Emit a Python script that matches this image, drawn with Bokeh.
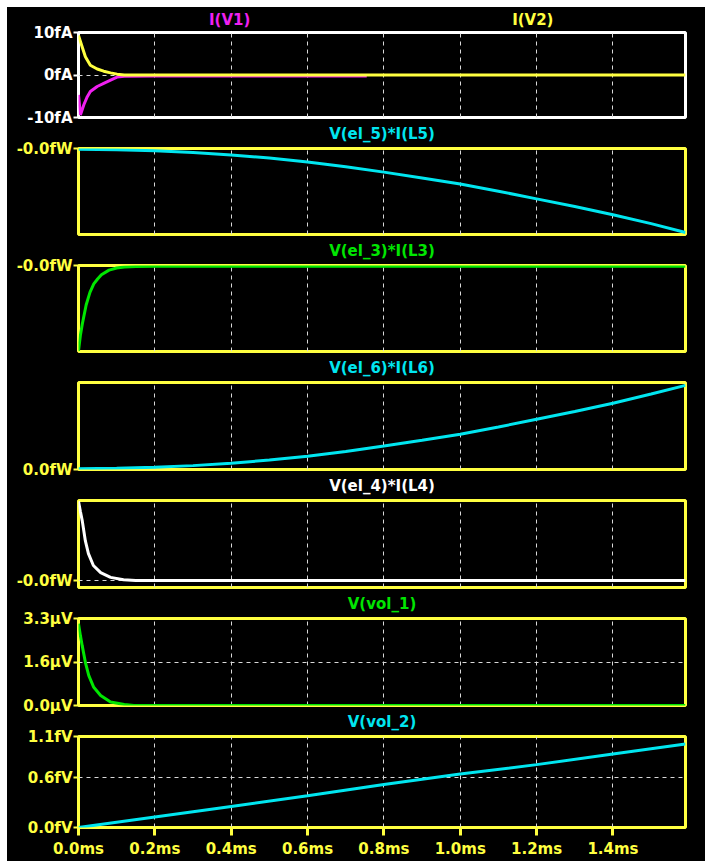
from bokeh.plotting import figure
from bokeh.layouts import column
from bokeh.models import FixedTicker, Range1d
from bokeh.core.properties import value
from bokeh.embed import file_html
from bokeh.resources import INLINE

# ---------------- data ----------------
x_ticks = [0.0, 0.2, 0.4, 0.6, 0.8, 1.0, 1.2, 1.4]
x_labels = ["0.0ms", "0.2ms", "0.4ms", "0.6ms", "0.8ms", "1.0ms", "1.2ms", "1.4ms"]

# panel 1: I(V1), I(V2)  [fA]
t_iv1 = [0.0, 0.005, 0.014, 0.023, 0.031, 0.049, 0.066, 0.084, 0.101, 0.12, 0.2, 0.4, 0.6, 0.755]
i_v1 = [-4.7, -9.4, -7.0, -5.1, -3.9, -2.7, -1.95, -1.2, -0.5, -0.3, -0.25, -0.25, -0.25, -0.25]
t_iv2 = [0.0, 0.0097, 0.018, 0.031, 0.049, 0.066, 0.084, 0.101, 0.12, 0.4, 0.8, 1.2, 1.59]
i_v2 = [9.3, 6.6, 4.3, 2.3, 1.4, 0.9, 0.5, 0.2, 0.0, 0.0, 0.0, 0.0, 0.0]
top_titles = ["I(V1)", "I(V2)"]
top_title_x = [0.396, 1.19]

# panel 2: V(el_5)*I(L5)  [fW]
t_p5 = [0.0, 0.1, 0.2, 0.3, 0.4, 0.5, 0.6, 0.7, 0.8, 0.9, 1.0, 1.1, 1.2, 1.3, 1.4, 1.5, 1.59]
p_l5 = [0.0, -0.00012, -0.00049, -0.00108, -0.00195, -0.00307, -0.00443, -0.00610, -0.00802,
        -0.01012, -0.01221, -0.01476, -0.01744, -0.02016, -0.02302, -0.02616, -0.0293]

# panel 3: V(el_3)*I(L3)  [fW]
t_p3 = [0.0, 0.005, 0.01, 0.02, 0.03, 0.04, 0.05, 0.06, 0.08, 0.10, 0.12, 0.15, 0.20, 1.59]
p_l3 = [-0.0120, -0.0098, -0.0082, -0.0055, -0.0037, -0.0025, -0.0018, -0.0012,
        -0.00054, -0.00024, -0.0001, -0.00002, 0.0, 0.0]

# panel 4: V(el_6)*I(L6)  [fW]
t_p6 = [0.0, 0.1, 0.2, 0.3, 0.4, 0.5, 0.6, 0.7, 0.8, 0.9, 1.0, 1.1, 1.2, 1.3, 1.4, 1.5, 1.59]
p_l6 = [0.0, 0.00012, 0.00048, 0.00105, 0.0019, 0.0030, 0.0043, 0.0060, 0.0079,
        0.0099, 0.0120, 0.0145, 0.0172, 0.0199, 0.0228, 0.0260, 0.0290]

# panel 5: V(el_4)*I(L4)  [fW]
t_p4 = [0.0, 0.005, 0.010, 0.018, 0.026, 0.039, 0.058, 0.084, 0.118, 0.15, 1.59]
p_l4 = [0.0100, 0.0087, 0.0075, 0.0050, 0.0034, 0.0019, 0.0010, 0.0004, 0.0001, 0.0, 0.0]

# panel 6: V(vol_1)  [uV]
t_vol1 = [0.0, 0.005, 0.0097, 0.018, 0.027, 0.04, 0.058, 0.084, 0.12, 0.145, 1.59]
v_vol1 = [3.10, 2.65, 2.27, 1.64, 1.13, 0.69, 0.38, 0.13, 0.04, 0.0, 0.0]

# panel 7: V(vol_2)  [fV]
t_vol2 = [0.0, 0.2, 0.4, 0.6, 0.8, 1.0, 1.2, 1.4, 1.59]
v_vol2 = [0.0, 0.127, 0.254, 0.383, 0.52, 0.646, 0.76, 0.888, 1.008]

# ---------------- styling ----------------
YEL = "#ffff40"
CYAN = "#00e6f0"
GREEN = "#00e600"
MAG = "#f020f0"
WHITE = "#ffffff"
GRID = "#d8d8d8"
FONT = "DejaVu Sans"
FSIZE = "15px"
W = 698
LEFT = 71
FRAME_W = 607
X_END = 1.59
OVER = 9   # overlap between stacked figures (transparent borders)


def base_fig(h, top, bottom, yr, **kw):
    p = figure(width=W, height=h, x_range=Range1d(0, X_END), y_range=Range1d(*yr),
               output_backend="svg", toolbar_location=None,
               min_border_left=LEFT, min_border_right=W - LEFT - FRAME_W,
               min_border_top=top, min_border_bottom=bottom, **kw)
    p.background_fill_color = "black"
    p.border_fill_color = None
    return p


def panel(h, top, bottom, yr, yticks, ylabels, frame_col, label_col, ygrid_ticks,
          ttl="", ttl_col=WHITE, show_x=False):
    p = base_fig(h, top, bottom, yr, margin=(-OVER, 0, 0, 0))
    p.outline_line_color = frame_col
    p.outline_line_width = 3
    p.outline_line_alpha = 1.0

    if ttl:
        p.title.text = ttl
        p.title.align = "center"
        p.title.text_color = ttl_col
        p.title.text_font = FONT
        p.title.text_font_style = "bold"
        p.title.text_font_size = FSIZE
        p.title.standoff = 11

    yax = p.yaxis[0]
    yax.ticker = FixedTicker(ticks=yticks)
    yax.major_label_overrides = {k: v for k, v in zip(yticks, ylabels)}
    yax.axis_line_color = None
    yax.major_tick_out = 5
    yax.major_tick_in = 0
    yax.major_tick_line_color = label_col
    yax.major_tick_line_width = 2
    yax.minor_tick_line_color = None
    yax.major_label_text_color = label_col
    yax.major_label_text_font = FONT
    yax.major_label_text_font_style = "bold"
    yax.major_label_text_font_size = FSIZE
    yax.major_label_standoff = 1

    p.xgrid.ticker = FixedTicker(ticks=x_ticks[1:])
    p.xgrid.grid_line_color = GRID
    p.xgrid.grid_line_dash = "4 4"
    p.xgrid.grid_line_width = 1
    if ygrid_ticks:
        p.ygrid.ticker = FixedTicker(ticks=ygrid_ticks)
        p.ygrid.grid_line_color = GRID
        p.ygrid.grid_line_dash = "4 4"
        p.ygrid.grid_line_width = 1
    else:
        p.ygrid.visible = False

    xax = p.xaxis[0]
    if show_x:
        xax.ticker = FixedTicker(ticks=x_ticks)
        xax.major_label_overrides = {k: v for k, v in zip(x_ticks, x_labels)}
        xax.axis_line_color = None
        xax.major_tick_out = 8
        xax.major_tick_in = 0
        xax.major_tick_line_color = YEL
        xax.major_tick_line_width = 3
        xax.minor_tick_line_color = None
        xax.major_label_text_color = YEL
        xax.major_label_text_font = FONT
        xax.major_label_text_font_style = "bold"
        xax.major_label_text_font_size = FSIZE
        xax.major_label_standoff = 4
    else:
        xax.visible = False
    return p


# strip carrying the two titles of the first panel
s1 = base_fig(25, 0, 0, (0, 25), x_axis_location=None, y_axis_location=None)
s1.outline_line_color = None
s1.xgrid.visible = False
s1.ygrid.visible = False
s1.text(x=top_title_x, y=[12.5, 12.5], text=top_titles, text_color=[MAG, YEL],
        text_align="center", text_baseline="middle", text_font=value(FONT),
        text_font_style="bold", text_font_size=FSIZE)

# panel 1
p1 = panel(103, 9, 9, (-10, 10), [-10, 0, 10], ["-10fA", "0fA", "10fA"], WHITE, WHITE, [0])
p1.line(t_iv1, i_v1, line_color=MAG, line_width=3)
p1.line(t_iv2, i_v2, line_color=YEL, line_width=3)

# panel 2
p2 = panel(126, 31, 9, (-0.030, 0.0003), [0.0003], ["-0.0fW"], YEL, YEL, [],
           ttl="V(el_5)*I(L5)", ttl_col=CYAN)
p2.line(t_p5, p_l5, line_color=CYAN, line_width=3)

# panel 3
p3 = panel(126, 31, 9, (-0.0121, 0.00012), [0.00012], ["-0.0fW"], YEL, YEL, [],
           ttl="V(el_3)*I(L3)", ttl_col=GREEN)
p3.line(t_p3, p_l3, line_color=GREEN, line_width=3)

# panel 4
p4 = panel(127, 31, 9, (-0.0003, 0.030), [-0.0003], ["0.0fW"], YEL, YEL, [],
           ttl="V(el_6)*I(L6)", ttl_col=CYAN)
p4.line(t_p6, p_l6, line_color=CYAN, line_width=3)

# panel 5
p5 = panel(127, 31, 9, (-0.000875, 0.0101), [0.0], ["-0.0fW"], YEL, YEL, [0.0],
           ttl="V(el_4)*I(L4)", ttl_col=WHITE)
p5.line(t_p4, p_l4, line_color=WHITE, line_width=3)

# panel 6
p6 = panel(127, 31, 9, (0.0, 3.3), [0.0, 1.65, 3.3], ["0.0\u00b5V", "1.6\u00b5V", "3.3\u00b5V"],
           YEL, YEL, [1.65], ttl="V(vol_1)", ttl_col=GREEN)
p6.line(t_vol1, v_vol1, line_color=GREEN, line_width=3)

# panel 7
p7 = panel(156, 30, 34, (0.0, 1.1), [0.0, 0.6, 1.1], ["0.0fV", "0.6fV", "1.1fV"],
           YEL, YEL, [0.6], ttl="V(vol_2)", ttl_col=CYAN, show_x=True)
p7.line(t_vol2, v_vol2, line_color=CYAN, line_width=3)

layout = column(s1, p1, p2, p3, p4, p5, p6, p7, spacing=0, margin=(7, 0, 0, 7),
                styles={"background-color": "black"})
open("out.html", "w").write(file_html(layout, INLINE))
